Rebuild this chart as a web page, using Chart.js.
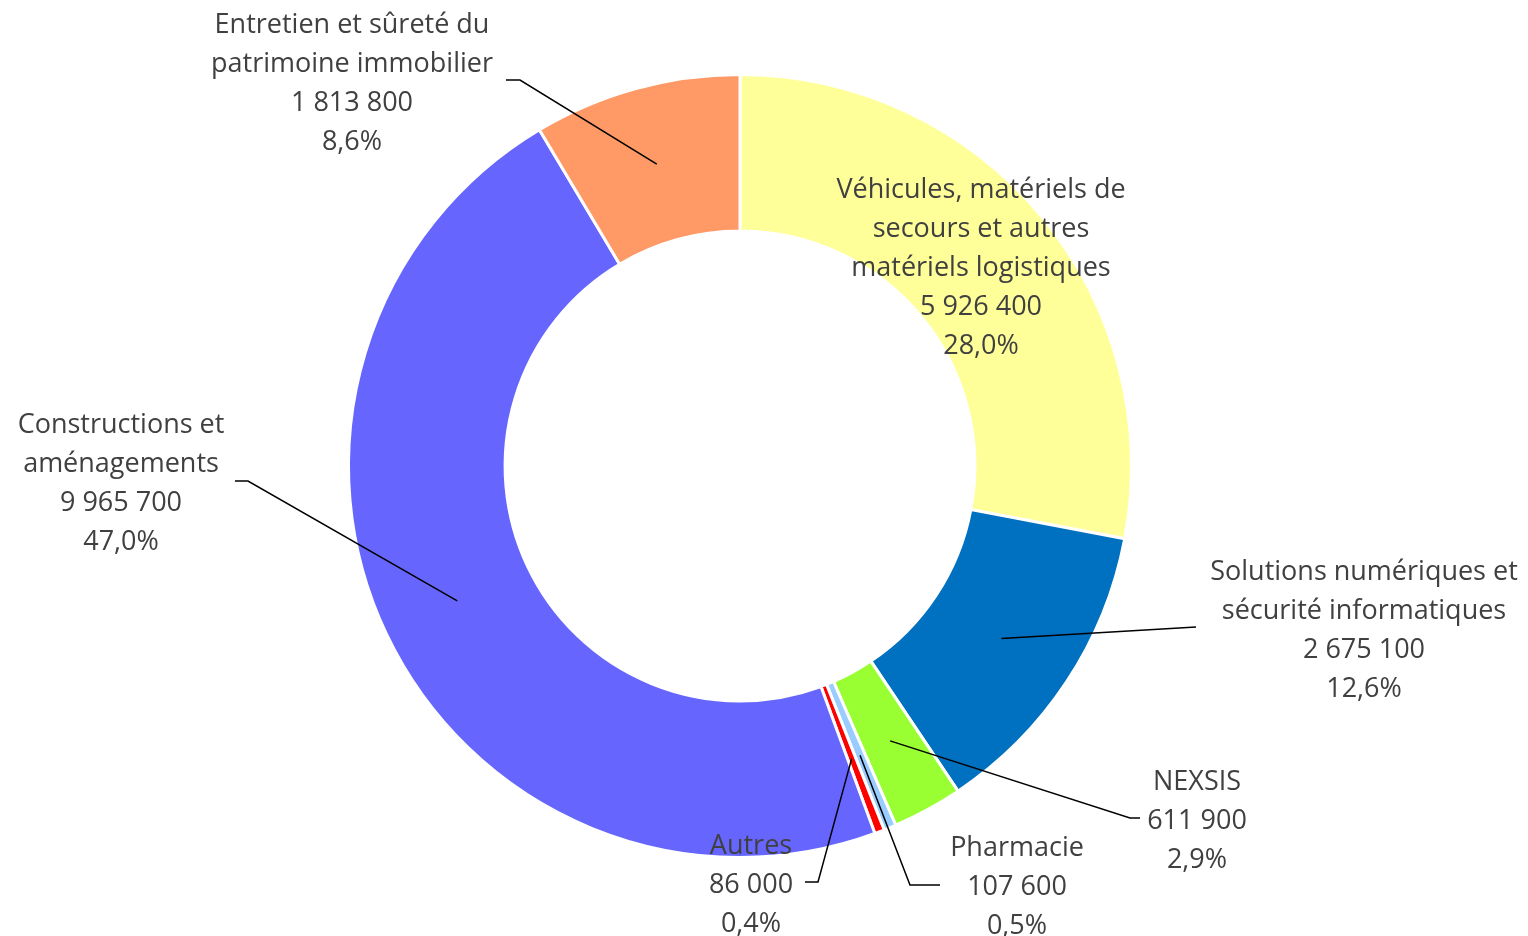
<!DOCTYPE html>
<html>
<head>
<meta charset="utf-8">
<script src="https://cdn.jsdelivr.net/npm/chart.js@4.4.1/dist/chart.umd.min.js"></script>
<style>
  html, body { margin: 0; padding: 0; background: #fff; }
  #wrap { width: 1528px; height: 936px; position: relative; }
</style>
</head>
<body>
<div id="wrap"><canvas id="budgetChart"></canvas></div>
<script>
// Categories and values (clockwise from 12 o'clock)
const categories = [
    ['Véhicules, matériels de', 'secours et autres', 'matériels logistiques'],
    ['Solutions numériques et', 'sécurité informatiques'],
    ['NEXSIS'],
    ['Pharmacie'],
    ['Autres'],
    ['Constructions et', 'aménagements'],
    ['Entretien et sûreté du', 'patrimoine immobilier']
];
const amounts = [5926400, 2675100, 611900, 107600, 86000, 9965700, 1813800];
const sliceColors = ['#FFFF99', '#0070C0', '#99FF33', '#99CCFF', '#FF0000', '#6666FF', '#FF9966'];

// Label placement: text centre x, first line y, and leader path (elbow, end) or null
const labelLayout = [
    { x: 981, y: 190, leader: null },
    { x: 1364, y: 572, leader: [[1196, 627]] },
    { x: 1197, y: 782, leader: [[1130, 818], [1140, 818]] },
    { x: 1017, y: 848, leader: [[910, 885], [940, 885]] },
    { x: 751, y: 846, leader: [[818, 882], [805, 882]] },
    { x: 121, y: 425, leader: [[248, 481], [235, 481]] },
    { x: 352, y: 25, leader: [[520, 80], [506, 80]] }
];

const total = amounts.reduce((s, v) => s + v, 0);

function formatAmount(v) {
    return String(v).replace(/\B(?=(\d{3})+(?!\d))/g, ' ');
}
function formatPct(v) {
    return (v / total * 100).toFixed(1).replace('.', ',') + '%';
}

// Draw labels and leader lines after the doughnut
const labelPlugin = {
    id: 'outerLabels',
    afterDatasetsDraw(chart) {
        const ctx = chart.ctx;
        const meta = chart.getDatasetMeta(0);
        ctx.save();
        meta.data.forEach((arc, i) => {
            const p = arc.getProps(['x', 'y', 'startAngle', 'endAngle', 'innerRadius', 'outerRadius'], true);
            const layout = labelLayout[i];
            if (layout.leader) {
                const mid = (p.startAngle + p.endAngle) / 2;
                const r = (p.innerRadius + p.outerRadius) / 2;
                ctx.beginPath();
                ctx.moveTo(p.x + Math.cos(mid) * r, p.y + Math.sin(mid) * r);
                layout.leader.forEach(pt => ctx.lineTo(pt[0], pt[1]));
                ctx.strokeStyle = '#000';
                ctx.lineWidth = 1.5;
                ctx.stroke();
            }
            const lines = categories[i].concat([formatAmount(amounts[i]), formatPct(amounts[i])]);
            ctx.fillStyle = '#404040';
            ctx.font = '27px "Open Sans", Lato, sans-serif';
            ctx.textAlign = 'center';
            ctx.textBaseline = 'middle';
            lines.forEach((t, k) => ctx.fillText(t, layout.x, layout.y + k * 39));
        });
        ctx.restore();
    }
};

const ctx = document.getElementById('budgetChart').getContext('2d');
const budgetChart = new Chart(ctx, {
    type: 'doughnut',
    data: {
        labels: categories.map(c => c.join(' ')),
        datasets: [{
            data: amounts,
            backgroundColor: sliceColors,
            borderColor: '#FFFFFF',
            borderWidth: 3,
            borderJoinStyle: 'miter'
        }]
    },
    options: {
        responsive: true,
        maintainAspectRatio: false,
        animation: false,
        cutout: '60%',
        layout: { padding: { top: 73, bottom: 77, left: 347, right: 395 } },
        plugins: {
            legend: { display: false },
            tooltip: { enabled: false }
        }
    },
    plugins: [labelPlugin]
});
</script>
</body>
</html>
